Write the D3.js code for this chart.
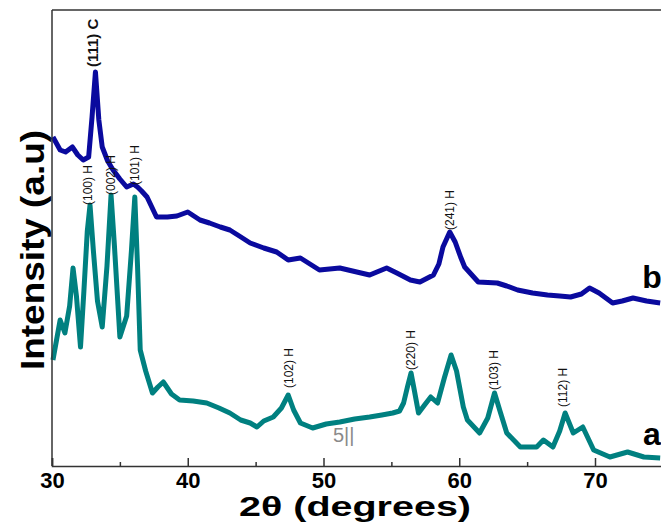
<!DOCTYPE html>
<html>
<head>
<meta charset="utf-8">
<script src="https://cdn.jsdelivr.net/npm/d3@7"></script>
<style>
  html, body { margin: 0; padding: 0; background: #fff; }
  svg { display: block; font-family: "Liberation Sans", Arial, sans-serif; }
</style>
</head>
<body>
<svg id="chart" width="661" height="523"></svg>
<script>
// ---- data (arbitrary intensity units) ----
const seriesA_2theta = [30.07, 30.6, 30.95, 31.3, 31.55, 31.8, 32.1, 32.35, 32.6, 32.8, 33.05, 33.35, 33.7, 34.05, 34.35, 34.6, 35.0, 35.5, 35.85, 36.1, 36.3, 36.5, 36.9, 37.4, 37.8, 38.2, 38.8, 39.4, 40.4, 41.4, 42.3, 43.1, 43.9, 44.6, 45.1, 45.6, 46.3, 46.9, 47.4, 47.8, 48.3, 49.2, 50.2, 51.2, 52.3, 53.4, 54.3, 55.1, 55.6, 55.9, 56.2, 56.45, 56.7, 57.0, 57.5, 57.9, 58.4, 58.9, 59.4, 59.8, 60.3, 60.6, 61.5, 62.1, 62.6, 63.0, 63.5, 64.5, 65.7, 66.2, 66.9, 67.4, 67.8, 68.4, 69.1, 69.9, 71.1, 72.4, 73.6, 74.8];
const seriesA_int    = [106, 146, 133, 160, 198, 170, 119, 175, 235, 261, 215, 165, 139, 200, 271, 220, 129, 150, 215, 269, 200, 116, 95, 73, 79, 84, 72, 66, 65, 63, 58, 53, 46, 43, 39, 45, 49, 58, 71, 56, 43, 38, 42, 44, 47, 49, 51, 53, 55, 63, 80, 93, 75, 53, 62, 69, 63, 88, 111, 95, 59, 46, 33, 48, 73, 55, 33, 19, 19, 26, 19, 35, 53, 33, 39, 16, 9, 14, 9, 8];

const seriesB_2theta = [30.07, 30.6, 31.0, 31.5, 31.9, 32.3, 32.7, 32.95, 33.2, 33.45, 33.7, 34.1, 34.5, 35.0, 35.5, 36.0, 36.3, 36.6, 37.0, 37.7, 38.5, 39.2, 40.0, 40.9, 41.6, 42.4, 43.1, 43.8, 44.6, 45.6, 46.55, 47.4, 48.3, 49.7, 51.2, 52.45, 53.4, 54.65, 55.4, 56.4, 57.1, 58.1, 58.5, 58.8, 59.3, 59.7, 60.1, 60.4, 61.4, 62.8, 63.5, 64.3, 65.4, 66.5, 67.4, 68.2, 69.0, 69.6, 70.3, 71.3, 72.0, 72.8, 73.8, 74.8];
const seriesB_int    = [329, 316, 314, 319, 311, 306, 309, 349, 394, 346, 319, 305, 296, 287, 279, 282, 279, 275, 269, 249, 249, 250, 254, 246, 243, 239, 236, 230, 223, 218, 214, 206, 208, 196, 198, 194, 191, 198, 193, 186, 184, 191, 202, 219, 234, 224, 209, 199, 184, 183, 180, 176, 173, 171, 170, 169, 172, 178, 173, 163, 165, 168, 165, 163];

const xTicksMajor = [30, 40, 50, 60, 70];
const xTicksMinor = [35, 45, 55, 65, 75];

const peakLabels   = ["(111) C", "(100) H", "(002) H", "(101) H", "(241) H", "(102) H", "(220) H", "(103) H", "(112) H"];
const peak2theta   = [33.0, 32.6, 34.3, 36.1, 59.3, 47.4, 56.4, 62.5, 67.6];
const peakLabelInt = [399, 261, 271, 281, 236, 78, 96, 76, 59];

const seriesNames = ["a", "b"];

// ---- layout ----
const svg = d3.select("#chart");
const mLeft = 52, mTop = 10, mBottom = 466;
const x = d3.scaleLinear().domain([30, 75]).range([mLeft, mLeft + 45 * 13.575]);
const y = d3.scaleLinear().domain([0, 456]).range([mBottom, mTop]);
const mRight = x(75);

// curves
const line = d3.line().x(d => x(d[0])).y(d => y(d[1])).curve(d3.curveLinear);
const dataA = seriesA_2theta.map((t, i) => [t, seriesA_int[i]]);
const dataB = seriesB_2theta.map((t, i) => [t, seriesB_int[i]]);

svg.append("path").datum(dataA).attr("d", line)
  .attr("fill", "none").attr("stroke", "#008080").attr("stroke-width", 5)
  .attr("stroke-linejoin", "round");
svg.append("path").datum(dataB).attr("d", line)
  .attr("fill", "none").attr("stroke", "#0a0a9e").attr("stroke-width", 5)
  .attr("stroke-linejoin", "round");

// frame
svg.append("line").attr("x1", mLeft).attr("x2", mRight).attr("y1", mTop).attr("y2", mTop)
  .attr("stroke", "#333").attr("stroke-width", 1.5);
svg.append("line").attr("x1", mLeft).attr("x2", mLeft).attr("y1", mTop).attr("y2", mBottom)
  .attr("stroke", "#333").attr("stroke-width", 1.5);

// x axis
const xAxis = d3.axisBottom(x).tickValues(xTicksMajor).tickSize(-8).tickPadding(6).tickFormat(d3.format("d"));
const gx = svg.append("g").attr("transform", `translate(0,${mBottom})`).call(xAxis);
gx.select(".domain").attr("stroke", "#333").attr("stroke-width", 1.5);
gx.selectAll(".tick line").attr("stroke", "#333").attr("stroke-width", 1.5);
gx.selectAll(".tick text").attr("font-size", 22).attr("font-weight", "bold")
  .attr("fill", "#000").attr("font-family", "Liberation Sans, Arial, sans-serif");
const gxm = svg.append("g").attr("transform", `translate(0,${mBottom})`)
  .call(d3.axisBottom(x).tickValues(xTicksMinor).tickSize(-4).tickFormat(""));
gxm.select(".domain").remove();
gxm.selectAll(".tick line").attr("stroke", "#333").attr("stroke-width", 1.5);

// axis titles
svg.append("text").attr("x", 355).attr("y", 516).attr("text-anchor", "middle")
  .attr("font-size", 28).attr("font-weight", "bold")
  .attr("textLength", 232).attr("lengthAdjust", "spacingAndGlyphs")
  .text("2θ (degrees)");
svg.append("text").attr("transform", "translate(44,250) rotate(-90)")
  .attr("text-anchor", "middle").attr("font-size", 33).attr("font-weight", "bold")
  .attr("textLength", 240).attr("lengthAdjust", "spacingAndGlyphs")
  .text("Intensity (a.u)");

// peak labels
peakLabels.forEach((t, i) => {
  const bold = i === 0;
  const fs = bold ? 15 : 12;
  svg.append("text")
    .attr("transform", `translate(${x(peak2theta[i]) + fs * 0.36},${y(peakLabelInt[i])}) rotate(-90)`)
    .attr("text-anchor", "start")
    .attr("font-size", fs)
    .attr("font-weight", bold ? "bold" : "normal")
    .attr("fill", "#111")
    .text(t);
});

// series labels
svg.append("text").attr("x", x(74.2)).attr("y", y(21)).attr("text-anchor", "middle")
  .attr("font-size", 32).attr("font-weight", "bold").text(seriesNames[0]);
svg.append("text").attr("x", x(74.2)).attr("y", y(178)).attr("text-anchor", "middle")
  .attr("font-size", 32).attr("font-weight", "bold").text(seriesNames[1]);

// faint scan artifact
svg.append("text").attr("x", 333).attr("y", 442).attr("font-size", 20)
  .attr("fill", "#8a8a8a").text("5||");
</script>
</body>
</html>
